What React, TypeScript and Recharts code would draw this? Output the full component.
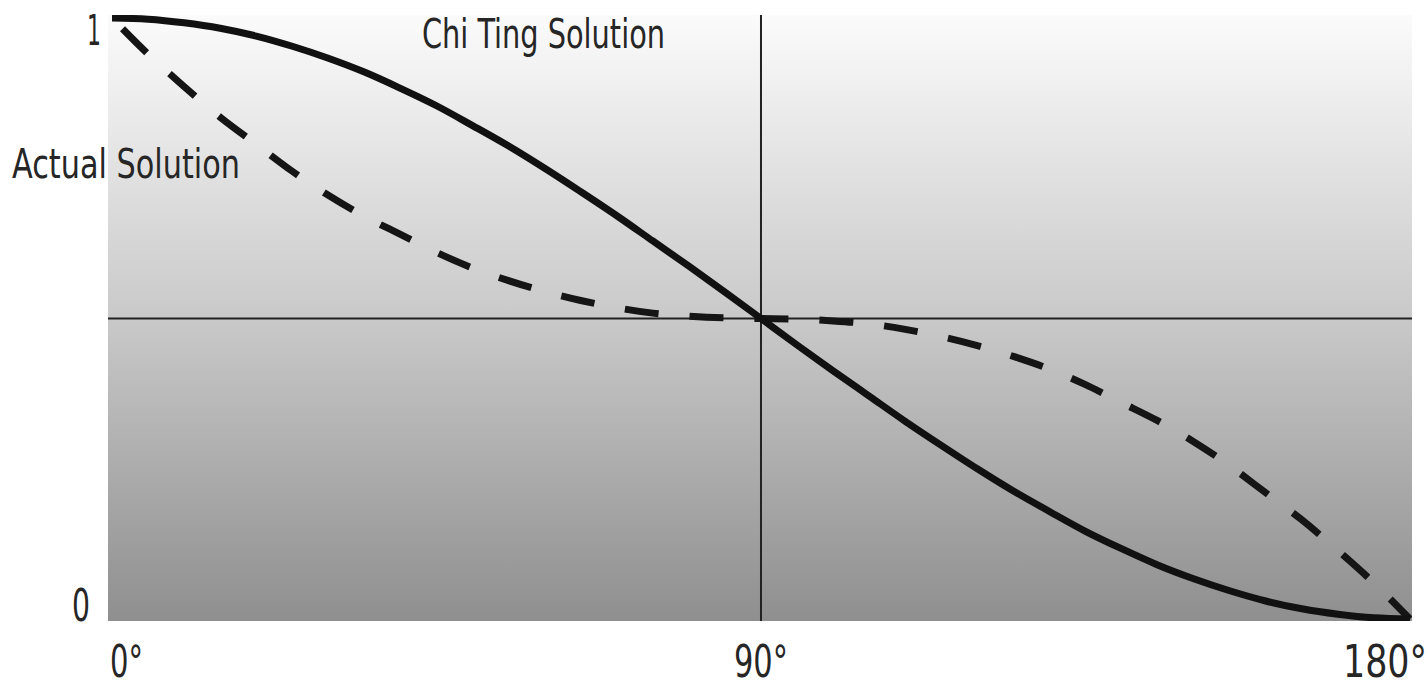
import React from 'react';
import { LineChart, Line, XAxis, YAxis, CartesianGrid, ReferenceLine } from 'recharts';

const angles = [0,5,10,15,20,25,30,35,40,45,50,55,60,65,70,75,80,85,90,95,100,105,110,115,120,125,130,135,140,145,150,155,160,165,170,175,180];
const chiTing = [1.0,0.998,0.992,0.983,0.97,0.953,0.933,0.91,0.883,0.854,0.821,0.787,0.75,0.711,0.671,0.629,0.587,0.544,0.5,0.456,0.413,0.371,0.329,0.289,0.25,0.213,0.179,0.146,0.117,0.09,0.067,0.047,0.03,0.017,0.008,0.002,0.0];
const actual = [1.0,0.94,0.886,0.835,0.79,0.745,0.705,0.67,0.64,0.61,0.584,0.563,0.545,0.53,0.518,0.509,0.504,0.501,0.5,0.499,0.496,0.491,0.482,0.47,0.455,0.437,0.416,0.39,0.36,0.33,0.295,0.255,0.21,0.165,0.114,0.06,0.0];
const xTicks = [0, 90, 180];
const xTickLabels = ['0°', '90°', '180°'];
const yTicks = [0, 1];
const yTickLabels = ['0', '1'];

const data = angles.map((a, i) => ({ angle: a, chiTing: chiTing[i], actual: actual[i] }));

const FONT = '"DejaVu Sans Condensed", "DejaVu Sans", sans-serif';
const TEXT = '#262626';

const XTick = (props: any) => {
  const { x, y, payload } = props;
  const idx = xTicks.indexOf(payload.value);
  const label = xTickLabels[idx];
  if (idx === 0) {
    return <text x={x - 2} y={y + 56} fontFamily={FONT} fontSize={44} fill={TEXT} textAnchor="start" textLength={33} lengthAdjust="spacingAndGlyphs">{label}</text>;
  }
  if (idx === 1) {
    return <text x={x - 27} y={y + 56} fontFamily={FONT} fontSize={44} fill={TEXT} textAnchor="start" textLength={54} lengthAdjust="spacingAndGlyphs">{label}</text>;
  }
  return <text x={x - 67} y={y + 56} fontFamily={FONT} fontSize={44} fill={TEXT} textAnchor="start" textLength={84} lengthAdjust="spacingAndGlyphs">{label}</text>;
};

const YTick = (props: any) => {
  const { x, y, payload } = props;
  const idx = yTicks.indexOf(payload.value);
  const label = yTickLabels[idx];
  if (payload.value === 1) {
    return <text x={x - 21} y={y + 27} fontFamily={FONT} fontSize={42} fill={TEXT} textAnchor="start" textLength={14} lengthAdjust="spacingAndGlyphs">{label}</text>;
  }
  return <text x={x - 36} y={y + 2} fontFamily={FONT} fontSize={44} fill={TEXT} textAnchor="start" textLength={18} lengthAdjust="spacingAndGlyphs">{label}</text>;
};

export default function App() {
  return (
    <div style={{ position: 'absolute', left: 0, top: 0, width: 1427, height: 680, background: '#fff' }}>
      <LineChart width={1427} height={680} data={data} margin={{ top: 15, right: 15, bottom: 0, left: 0 }}>
        <defs>
          <linearGradient id="bgGrad" x1="0" y1="0" x2="0" y2="1">
            <stop offset="0%" stopColor="#fbfbfb" />
            <stop offset="50%" stopColor="#c9c9c9" />
            <stop offset="100%" stopColor="#8f8f8f" />
          </linearGradient>
        </defs>
        <CartesianGrid horizontal={false} vertical={false} fill="url(#bgGrad)" fillOpacity={1} stroke="none" />
        <XAxis
          dataKey="angle"
          type="number"
          domain={[-0.555, 180.28]}
          allowDataOverflow
          ticks={xTicks}
          height={59}
          axisLine={false}
          tickLine={false}
          tickSize={0}
          tickMargin={0}
          tick={<XTick />}
          interval={0}
        />
        <YAxis
          type="number"
          domain={[-0.0033, 1.005]}
          allowDataOverflow
          ticks={yTicks}
          width={108}
          axisLine={false}
          tickLine={false}
          tickSize={0}
          tickMargin={0}
          tick={<YTick />}
          interval={0}
        />
        <ReferenceLine x={90} stroke="#222" strokeWidth={2} />
        <ReferenceLine y={0.5} stroke="#222" strokeWidth={2} />
        <Line type="monotone" dataKey="actual" stroke="#151515" strokeWidth={7} strokeDasharray="34 31" strokeDashoffset={50} dot={false} activeDot={false} isAnimationActive={false} />
        <Line type="monotone" dataKey="chiTing" stroke="#111" strokeWidth={7} dot={false} activeDot={false} isAnimationActive={false} />
      </LineChart>
      <svg width={1427} height={680} style={{ position: 'absolute', left: 0, top: 0, pointerEvents: 'none' }}>
        <text x={422} y={48} fontFamily={FONT} fontSize={41} fill={TEXT} textLength={243} lengthAdjust="spacingAndGlyphs">Chi Ting Solution</text>
        <text x={12} y={178} fontFamily={FONT} fontSize={41} fill={TEXT} textLength={228} lengthAdjust="spacingAndGlyphs">Actual Solution</text>
      </svg>
    </div>
  );
}
